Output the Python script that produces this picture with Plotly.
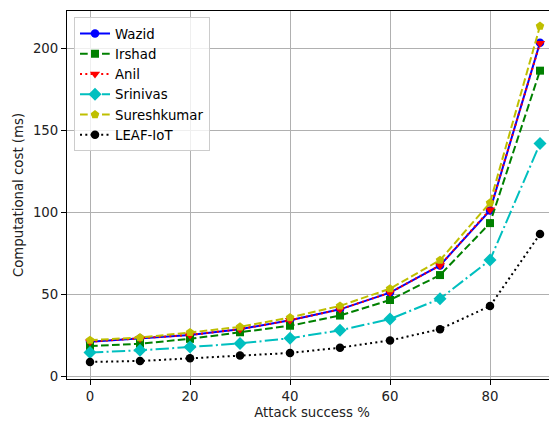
import plotly.graph_objects as go

attack = [0, 10, 20, 30, 40, 50, 60, 70, 80, 90]
wazid = [21.0, 22.9, 25.1, 28.6, 34.0, 40.7, 50.9, 67.5, 101.0, 203.4]
irshad = [18.3, 19.7, 22.7, 26.7, 30.7, 36.9, 46.4, 61.6, 93.3, 186.3]
anil = [21.0, 22.9, 25.1, 28.6, 34.0, 40.7, 50.9, 67.5, 101.5, 203.0]
srinivas = [14.3, 15.7, 17.7, 19.9, 23.1, 27.9, 34.8, 47.1, 70.8, 141.8]
suresh = [21.9, 23.5, 26.6, 30.0, 35.7, 42.8, 53.3, 70.7, 105.7, 213.5]
leaf = [8.6, 9.2, 10.8, 12.5, 14.1, 17.3, 21.7, 28.6, 42.7, 86.6]

series = [
    ("Wazid", wazid, "#0000ff", "solid", "circle", 8.5),
    ("Irshad", irshad, "#008000", "7.7px,3.3px", "square", 8),
    ("Anil", anil, "#ff0000", "2px,3.3px", "triangle-down", 9),
    ("Srinivas", srinivas, "#00bfbf", "13.3px,3.3px,2px,3.3px", "diamond", 10),
    ("Sureshkumar", suresh, "#bfbf00", "7.7px,3.3px", "pentagon", 9),
    ("LEAF-IoT", leaf, "#000000", "2px,3.3px", "circle", 8.5),
]

fig = go.Figure()
for name, ys, col, dash, sym, ms in series:
    fig.add_trace(go.Scatter(
        x=attack, y=ys, name=name, mode="lines+markers",
        line=dict(color=col, width=2, dash=dash),
        marker=dict(color=col, symbol=sym, size=ms, line=dict(width=0)),
    ))

font = dict(family="DejaVu Sans", size=13.3, color="#222222")
fig.update_layout(
    width=549, height=414,
    margin=dict(l=59, r=0, t=3, b=43, autoexpand=False),
    paper_bgcolor="white", plot_bgcolor="white",
    font=font,
    showlegend=True,
    legend=dict(
        x=0.0143, y=0.983, xanchor="left", yanchor="top",
        bgcolor="rgba(255,255,255,0.8)", bordercolor="#cccccc", borderwidth=1,
        font=dict(family="DejaVu Sans", size=13.3, color="#000000"),
        tracegroupgap=0, itemwidth=30,
    ),
    xaxis=dict(
        range=[-4.6, 93.4], tickvals=[0, 20, 40, 60, 80],
        showgrid=True, gridcolor="#b0b0b0", gridwidth=1.1,
        showline=True, linecolor="black", linewidth=1.1, mirror=True,
        ticks="outside", ticklen=5, tickcolor="black", tickwidth=1.1,
        zeroline=False,
        title=dict(text="Attack success %", standoff=4, font=font),
        tickfont=font,
    ),
    yaxis=dict(
        range=[-1.8, 222.7], tickvals=[0, 50, 100, 150, 200],
        showgrid=True, gridcolor="#b0b0b0", gridwidth=1.1,
        showline=True, linecolor="black", linewidth=1.1, mirror=False,
        ticks="outside", ticklen=5, tickcolor="black", tickwidth=1.1,
        zeroline=False,
        title=dict(text="Computational cost (ms)", standoff=6, font=font),
        tickfont=font,
    ),
)

fig.write_html("out.html")
